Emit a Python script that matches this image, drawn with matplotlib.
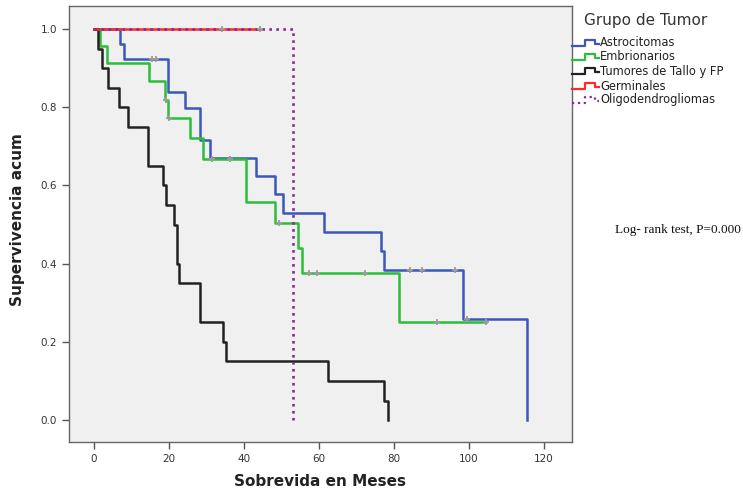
import numpy as np
import matplotlib
matplotlib.use('Agg')
import matplotlib.pyplot as plt
from matplotlib.lines import Line2D

# Curvas de Kaplan-Meier por grupo de tumor: tiempos de evento (meses),
# supervivencia acumulada tras cada evento, ultimo seguimiento y censuras

grupos = ['Astrocitomas', 'Embrionarios', 'Tumores de Tallo y FP',
          'Germinales', 'Oligodendrogliomas']

astro_t = [0, 7, 8, 19.6, 24.3, 28.3, 31, 43.2, 48.3, 50.5, 61.3, 76.5, 77.4, 98.4, 115.5]
astro_s = [1.0, 0.962, 0.923, 0.839, 0.797, 0.716, 0.670, 0.624, 0.578, 0.529,
           0.481, 0.432, 0.384, 0.258, 0.0]
astro_fin = 115.5
astro_cens = [15.5, 16.4, 84.3, 87.5, 96.3, 99.5]

embr_t = [0, 1.6, 3.5, 14.7, 19, 19.8, 25.6, 29, 40.5, 48.2, 54.3, 55.4, 81.3]
embr_s = [1.0, 0.957, 0.913, 0.867, 0.818, 0.772, 0.721, 0.667, 0.557, 0.504,
          0.440, 0.376, 0.251]
embr_fin = 104.5
embr_cens = [19.1, 20.0, 31.4, 36.3, 49.2, 57.4, 59.5, 72.3, 91.5, 104.5]

tallo_t = [0, 1.1, 2.1, 3.7, 6.7, 9.1, 14.4, 18.4, 19.2, 21.3, 22.1, 22.7,
           28.3, 34.4, 35.2, 62.4, 77.3, 78.4]
tallo_s = [1.0, 0.95, 0.90, 0.85, 0.80, 0.75, 0.65, 0.60, 0.55, 0.50, 0.40, 0.35,
           0.25, 0.20, 0.15, 0.10, 0.05, 0.0]
tallo_fin = 78.4
tallo_cens = []

germ_t = [0]
germ_s = [1.0]
germ_fin = 44.3
germ_cens = [34.0, 44.3]

oligo_t = [0, 53.1]
oligo_s = [1.0, 0.0]
oligo_fin = 53.1
oligo_cens = []

datos = [
    (astro_t, astro_s, astro_fin, astro_cens),
    (embr_t, embr_s, embr_fin, embr_cens),
    (tallo_t, tallo_s, tallo_fin, tallo_cens),
    (germ_t, germ_s, germ_fin, germ_cens),
    (oligo_t, oligo_s, oligo_fin, oligo_cens),
]
colores = ['#3a58b8', '#2cbd3a', '#222222', '#ff2b2b', '#8a2a90']
estilos = ['-', '-', '-', '-', ':']

fig = plt.figure(figsize=(7.43, 4.93), dpi=100)
ax = fig.add_axes([69 / 743, 1 - 442 / 493, (572 - 69) / 743, (442 - 6) / 493])
ax.set_facecolor('#f0f0f0')

for (t, s, fin, cens), c, ls in zip(datos, colores, estilos):
    x = list(t) + [fin]
    y = list(s) + [s[-1]]
    lw = 1.9 if ls == ':' else 1.8
    ax.step(x, y, where='post', color=c, lw=lw, ls=ls, zorder=3)
    if cens:
        idx = np.searchsorted(t, cens, side='right') - 1
        ax.plot(cens, np.array(s)[idx], ls='none', marker='+', ms=5, mew=1.3,
                color='#9c9c9c', zorder=4)

ax.set_xlim(-6.7, 127.5)
ax.set_ylim(-0.056, 1.059)
ax.set_xticks([0, 20, 40, 60, 80, 100, 120])
ax.set_yticks([0.0, 0.2, 0.4, 0.6, 0.8, 1.0])
ax.set_yticklabels(['0.0', '0.2', '0.4', '0.6', '0.8', '1.0'])
ax.tick_params(direction='out', length=5, width=1, color='#555555',
               labelsize=7.5, labelcolor='#333333')
for lado in ax.spines.values():
    lado.set_color('#666666')
    lado.set_linewidth(1)

fig.text(320 / 743, 1 - 481 / 493, 'Sobrevida en Meses', ha='center', va='center',
         fontsize=11, fontweight='bold', color='#222222')
fig.text(18 / 743, 1 - 220 / 493, 'Supervivencia acum', ha='center', va='center',
         rotation=90, fontsize=11, fontweight='bold', color='#222222')

# Leyenda a la derecha con iconos escalonados
fig.text(584 / 743, 1 - 20 / 493, 'Grupo de Tumor', ha='left', va='center',
         fontsize=11, color='#333333')
filas = [43, 57, 71, 86, 100]
for nombre, c, ls, yy in zip(grupos, colores, estilos, filas):
    xs = np.array([572, 585, 585, 595, 595, 599]) / 743
    ys = 1 - np.array([yy + 3, yy + 3, yy - 3, yy - 3, yy + 1, yy + 1]) / 493
    fig.add_artist(Line2D(xs, ys, color=c, lw=1.6, ls=ls, transform=fig.transFigure))
    fig.text(600 / 743, 1 - yy / 493, nombre, ha='left', va='center',
             fontsize=8.3, color='#222222')

fig.text(615 / 743, 1 - 230 / 493, 'Log- rank test, P=0.000', ha='left', va='center',
         fontsize=9.5, family='Liberation Serif', color='#111111')

fig.savefig('out.png', dpi=100, facecolor='white')
